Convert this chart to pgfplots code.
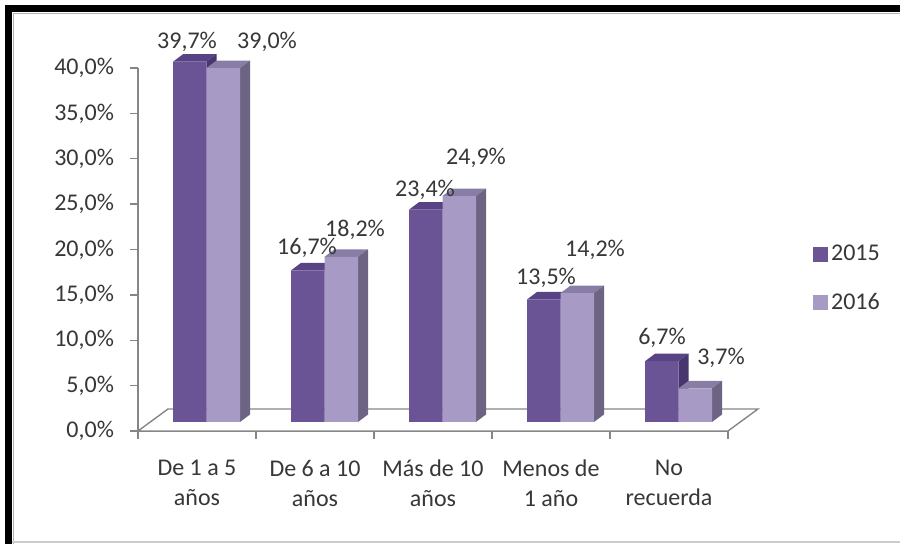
\documentclass[border=0pt]{standalone}
\usepackage{pgfplots}
\pgfplotsset{compat=1.18}
\usepackage{pgfplotstable}
\usepackage{fontspec}
\setmainfont{Carlito}
\definecolor{frontA}{RGB}{106,84,150}
\definecolor{topA}{RGB}{88,67,132}
\definecolor{sideA}{RGB}{72,55,110}
\definecolor{frontB}{RGB}{167,155,197}
\definecolor{topB}{RGB}{136,125,164}
\definecolor{sideB}{RGB}{108,100,130}
\definecolor{axgray}{RGB}{134,134,134}
\definecolor{txt}{RGB}{55,55,55}

% values (percent)
\pgfplotstableread{
x   a    b
0.5 39.7 39.0
1.5 16.7 18.2
2.5 23.4 24.9
3.5 13.5 14.2
4.5 6.7  3.7
}\data

% data label positions
\pgfplotstableread{
x      y      lab
0.4153 42.865 39,7\%
1.4322 20.165 16,7\%
2.4322 26.556 23,4\%
3.4576 16.860 13,5\%
4.4407 10.248 6,7\%
1.0932 42.865 39,0\%
1.8390 22.149 18,2\%
2.8644 30.083 24,9\%
3.8729 19.945 14,2\%
4.9407 8.044  3,7\%
}\labels

\def\base{0.9917}
\def\ddx{0.08475}
\def\ddy{0.8264}
\newcommand\faces[5]{%
  \pgfmathsetmacro\xl{#1}\pgfmathsetmacro\xr{#2}%
  \pgfmathsetmacro\yt{\base+#3}\pgfmathsetmacro\yb{\base}%
  \pgfmathsetmacro\xld{\xl+\ddx}\pgfmathsetmacro\xrd{\xr+\ddx}%
  \pgfmathsetmacro\ytd{\yt+\ddy}\pgfmathsetmacro\ybd{\yb+\ddy}%
  \edef\doit{\noexpand\addplot[fill=#4, draw=none, forget plot] coordinates {(\xl,\yt) (\xr,\yt) (\xrd,\ytd) (\xld,\ytd)};
    \noexpand\addplot[fill=#5, draw=none, forget plot] coordinates {(\xr,\yb) (\xrd,\ybd) (\xrd,\ytd) (\xr,\yt)};}%
  \doit}

\begin{document}
\begin{tikzpicture}
\useasboundingbox (0,0) rectangle (450pt,272pt);
\fill[white] (0,0) rectangle (450pt,272pt);
\begin{axis}[
  at={(69pt,56.5pt)}, anchor=south west,
  x=59pt, y=4.5375pt,
  xmin=0, xmax=5, ymin=0, ymax=40,
  axis lines=left,
  axis line style={draw=axgray, line width=0.7pt, -},
  clip=false,
  tick align=outside,
  major tick length=4pt,
  tick style={draw=axgray, line width=0.7pt},
  ytick={0,5,...,40},
  yticklabels={{0,0\%},{5,0\%},{10,0\%},{15,0\%},{20,0\%},{25,0\%},{30,0\%},{35,0\%},{40,0\%}},
  xtick={0,1,2,3,4,5},
  x tick label as interval,
  xticklabels={{De 1 a 5\\años},{De 6 a 10\\años},{Más de 10\\años},{Menos de\\1 año},{No\\recuerda},{}},
  xticklabel style={align=center, font=\fontsize{12}{15}\selectfont, text=txt, yshift=-7pt},
  yticklabel style={font=\fontsize{12}{14}\selectfont, text=txt, xshift=-4.5pt},
  legend style={at={(1.144,0.42)}, anchor=west, draw=none, fill=none,
    font=\fontsize{12}{14}\selectfont, text=txt, row sep=12pt, inner sep=0pt,
    nodes={inner sep=1.5pt}},
  legend cell align=left,
]
% floor
\addplot[draw=axgray, line width=0.7pt, fill=white, forget plot]
  coordinates {(0,0) (5,0) (5.2542,2.424) (0.2542,2.424) (0,0)};
% top and side faces
\pgfplotsinvokeforeach{0,...,4}{%
  \pgfplotstablegetelem{#1}{a}\of\data \let\va\pgfplotsretval
  \pgfplotstablegetelem{#1}{b}\of\data \let\vb\pgfplotsretval
  \pgfmathsetmacro\C{#1+0.5}%
  \faces{\C-0.20339}{\C+0.08051}{\va}{topA}{sideA}%
  \faces{\C+0.08051}{\C+0.36441}{\vb}{topB}{sideB}%
}
% front faces
\addplot[ybar, bar width=16.75pt, bar shift=-3.625pt, yshift=4.5pt, fill=frontA, draw=none, forget plot]
  table[x=x, y=a] {\data};
\addplot[ybar, bar width=16.75pt, bar shift=13.125pt, yshift=4.5pt, fill=frontB, draw=none, forget plot]
  table[x=x, y=b] {\data};
% data labels
\addplot[draw=none, mark=none, forget plot, nodes near coords, point meta=explicit symbolic,
  every node near coord/.append style={anchor=center, font=\fontsize{12}{14}\selectfont, text=txt}]
  table[x=x, y=y, meta=lab] {\labels};
\addlegendimage{legend image code/.code={\fill[frontA] (0pt,-3.5pt) rectangle (7pt,3.5pt);}}
\addlegendentry{2015}
\addlegendimage{legend image code/.code={\fill[frontB] (0pt,-3.5pt) rectangle (7pt,3.5pt);}}
\addlegendentry{2016}
\end{axis}
% frame
\fill[black] (2.5pt,0pt) rectangle (6pt,269.5pt);
\fill[black] (2.5pt,266pt) rectangle (450pt,269.5pt);
\draw[black!30, line width=0.6pt] (6.7pt,0pt) -- (6.7pt,265.3pt) -- (450pt,265.3pt);
\draw[black!20, line width=0.6pt] (6pt,1pt) -- (450pt,1pt);
\end{tikzpicture}
\end{document}
